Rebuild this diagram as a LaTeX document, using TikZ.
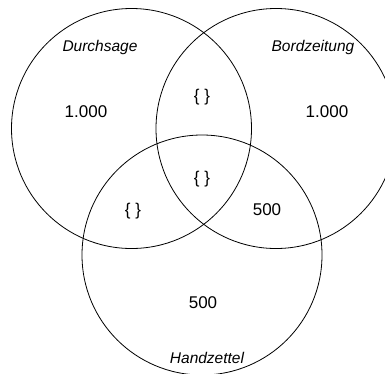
\documentclass[tikz,border=0pt]{standalone}
\usepackage{fontspec}
\setmainfont{Liberation Sans}
\begin{document}
\begin{tikzpicture}[x=1pt,y=-1pt,
  ring/.style={draw=black,line width=0.8pt},
  setlabel/.style={font=\fontsize{15.5}{18}\selectfont\itshape,inner sep=0pt},
  count/.style={font=\fontsize{17}{20}\selectfont,inner sep=0pt}]
\useasboundingbox (0,0) rectangle (385,373);
\clip (0,0) rectangle (385,373);
\draw[ring] (131.5,128.5) circle[radius=120];
\draw[ring] (276,128.5) circle[radius=120];
\draw[ring] (202,255) circle[radius=120];
\node[setlabel] (ld) at (100,47) {Durchsage};
\node[setlabel] (lb) at (313,47) {Bordzeitung};
\node[setlabel] (lh) at (207,358) {Handzettel};
\node[count] (nd) at (86,112) {1.000};
\node[count] (nb) at (327,112) {1.000};
\node[count] (ndb) at (202,97) {\{ \}};
\node[count] (nall) at (202,179) {\{ \}};
\node[count] (ndh) at (133,211) {\{ \}};
\node[count] (nbh) at (267,210) {500};
\node[count] (nh) at (203,303) {500};
\end{tikzpicture}
\end{document}
